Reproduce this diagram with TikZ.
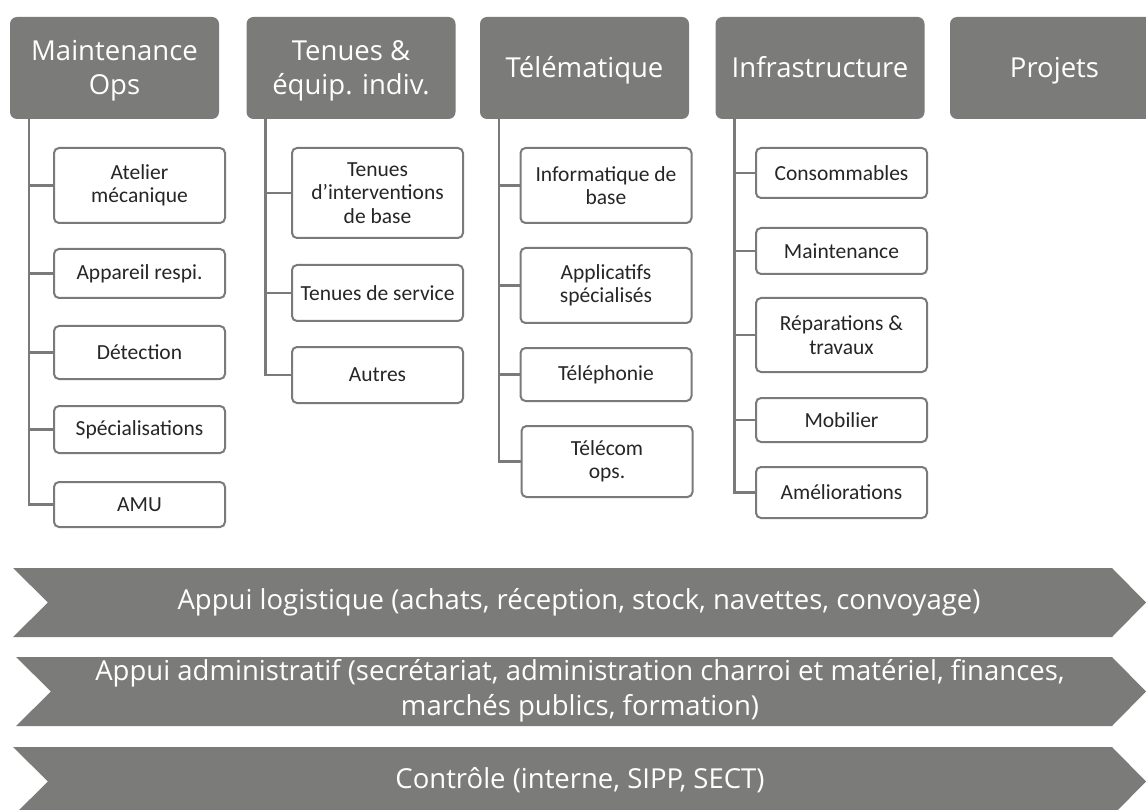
\documentclass[tikz,border=0pt]{standalone}
\usepackage{fontspec}
\setmainfont{Open Sans}
\newfontfamily\childfont{Carlito}
\definecolor{hdrgray}{RGB}{123,124,121}
\definecolor{linegray}{RGB}{122,122,122}
\definecolor{txtgray}{RGB}{38,38,38}
\newcommand\hdrtop{\rule{0pt}{29.8pt}}
\tikzset{
 hdr/.style={fill=hdrgray, rounded corners=7pt, minimum width=209pt, minimum height=102pt, inner sep=0pt, text=white, font=\fontsize{27.5}{34}\selectfont, align=center},
 child/.style={draw=linegray, line width=2pt, fill=white, rounded corners=5pt, minimum width=171pt, inner sep=0pt, text=txtgray, font=\childfont\fontsize{21.5}{23.5}\selectfont, align=center},
 trunk/.style={draw=linegray, line width=2.5pt},
 bannerfill/.style={fill=hdrgray},
 bantext/.style={text=white, font=\fontsize{27.5}{35}\selectfont, align=center, inner sep=0pt}
}
\begin{document}
\begin{tikzpicture}[x=1pt,y=-1pt]
\clip (0,0) rectangle (1146,810);
\fill[white] (0,0) rectangle (1146,810);

% headers
\node[hdr] (h1) at (114.5,68) {\hdrtop Maintenance\\\strut Ops};
\node[hdr] (h2) at (351,68) {\hdrtop Tenues \&\\\strut équip. indiv.};
\node[hdr] (h3) at (584.5,68) {\hdrtop\strut Télématique};
\node[hdr] (h4) at (820,68) {\hdrtop\strut Infrastructure};
\node[hdr] (h5) at (1054.5,68) {\hdrtop\strut Projets};

% column 1
\node[child, minimum height=75pt] (c11) at (139.5,185.5) {Atelier\\mécanique};
\node[child, minimum height=49pt] (c12) at (139.5,273.5) {Appareil respi.};
\node[child, minimum height=53pt] (c13) at (139.5,352.5) {Détection};
\node[child, minimum height=47pt] (c14) at (139.5,429.5) {Spécialisations};
\node[child, minimum height=45pt] (c15) at (139.5,504.5) {AMU};

% column 2
\node[child, minimum height=90pt] (c21) at (377.5,193) {Tenues\\d’interventions\\de base};
\node[child, minimum height=56pt] (c22) at (377.5,293) {Tenues de service};
\node[child, minimum height=56pt] (c23) at (377.5,375) {Autres};

% column 3
\node[child, minimum height=75pt] (c31) at (606,185.5) {Informatique de\\base};
\node[child, minimum height=75pt] (c32) at (606,285.5) {Applicatifs\\spécialisés};
\node[child, minimum height=53pt] (c33) at (606,374.5) {Téléphonie};
\node[child, minimum height=71pt] (c34) at (607,461.5) {Télécom\\ops.};

% column 4
\node[child, minimum height=50pt] (c41) at (841.5,173) {Consommables};
\node[child, minimum height=46pt] (c42) at (841.5,251) {Maintenance};
\node[child, minimum height=74pt] (c43) at (841.5,335) {Réparations \&\\travaux};
\node[child, minimum height=44pt] (c44) at (841.5,420) {Mobilier};
\node[child, minimum height=51pt] (c45) at (841.5,492.5) {Améliorations};

% trunks
\coordinate (t1) at ([xshift=19pt]h1.south west);
\coordinate (t2) at ([xshift=19pt]h2.south west);
\coordinate (t3) at ([xshift=19pt]h3.south west);
\coordinate (t4) at ([xshift=19pt]h4.south west);
\draw[trunk] (t1) |- (c15.west);
\foreach \c in {c11,c12,c13,c14} \draw[trunk] (t1 |- \c.west) -- (\c.west);
\draw[trunk] (t2) |- (c23.west);
\foreach \c in {c21,c22} \draw[trunk] (t2 |- \c.west) -- (\c.west);
\draw[trunk] (t3) |- (c34.west);
\foreach \c in {c31,c32,c33} \draw[trunk] (t3 |- \c.west) -- (\c.west);
\draw[trunk] (t4) |- (c45.west);
\foreach \c in {c41,c42,c43,c44} \draw[trunk] (t4 |- \c.west) -- (\c.west);

% banners
\fill[bannerfill] (13,568) -- (1112,568) -- (1146,602.5) -- (1112,637) -- (13,637) -- (48,602.5) -- cycle;
\fill[bannerfill] (16,657) -- (1112,657) -- (1146,691.5) -- (1112,726) -- (16,726) -- (51,691.5) -- cycle;
\fill[bannerfill] (13,747) -- (1112,747) -- (1146,781.5) -- (1112,816) -- (13,816) -- (48,781.5) -- cycle;
\node[bantext] (b1) at (579,602) {Appui logistique (achats, réception, stock, navettes, convoyage)};
\node[bantext] (b2) at (580,691) {Appui administratif (secrétariat, administration charroi et matériel, finances,\\marchés publics, formation)};
\node[bantext] (b3) at (580,780) {Contrôle (interne, SIPP, SECT)};
\end{tikzpicture}
\end{document}
